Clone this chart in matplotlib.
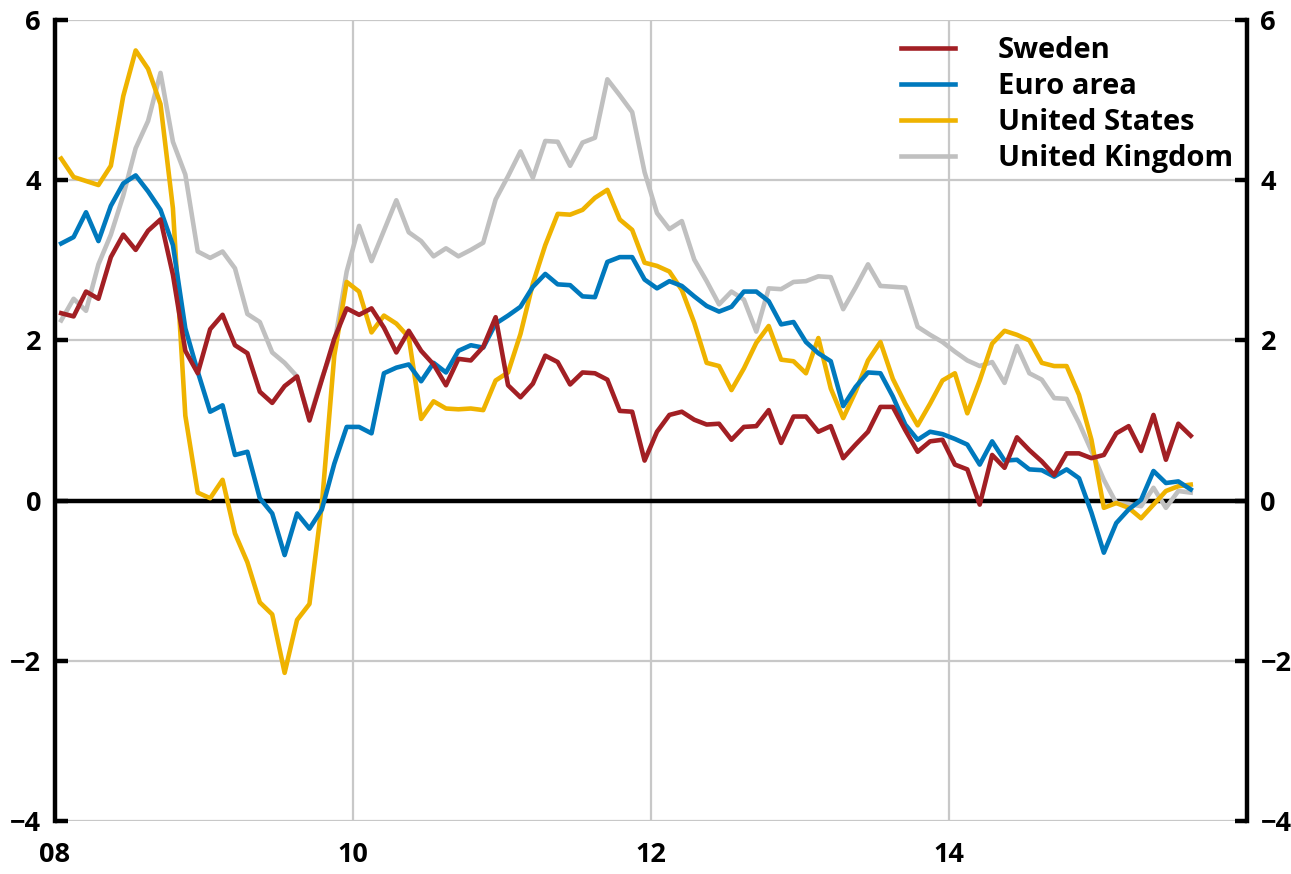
import numpy as np
import matplotlib.pyplot as plt

# monthly inflation, Jan 2008 - Aug 2015
sweden = [2.34, 2.30, 2.61, 2.52, 3.04, 3.32, 3.13, 3.37, 3.51, 2.82, 1.87, 1.59,
          2.14, 2.32, 1.94, 1.84, 1.36, 1.22, 1.43, 1.55, 1.00, 1.51, 2.02, 2.40,
          2.32, 2.40, 2.16, 1.85, 2.12, 1.87, 1.70, 1.44, 1.77, 1.75, 1.92, 2.29,
          1.44, 1.29, 1.46, 1.81, 1.73, 1.45, 1.60, 1.59, 1.51, 1.12, 1.11, 0.50,
          0.86, 1.07, 1.11, 1.01, 0.95, 0.96, 0.76, 0.92, 0.93, 1.13, 0.72, 1.05,
          1.05, 0.86, 0.93, 0.53, 0.70, 0.86, 1.17, 1.17, 0.88, 0.61, 0.74, 0.76,
          0.45, 0.39, -0.05, 0.57, 0.41, 0.79, 0.63, 0.49, 0.32, 0.59, 0.59, 0.53,
          0.57, 0.84, 0.93, 0.62, 1.07, 0.51, 0.96, 0.81]
euro = [3.21, 3.29, 3.60, 3.24, 3.68, 3.96, 4.06, 3.86, 3.63, 3.19, 2.15, 1.61,
        1.11, 1.19, 0.57, 0.61, 0.03, -0.16, -0.68, -0.16, -0.35, -0.11, 0.46, 0.92,
        0.92, 0.84, 1.59, 1.66, 1.70, 1.49, 1.72, 1.60, 1.87, 1.94, 1.91, 2.21,
        2.31, 2.42, 2.67, 2.83, 2.70, 2.69, 2.55, 2.54, 2.98, 3.04, 3.04, 2.76,
        2.65, 2.74, 2.68, 2.55, 2.43, 2.36, 2.42, 2.61, 2.61, 2.49, 2.20, 2.23,
        1.98, 1.84, 1.74, 1.18, 1.42, 1.60, 1.59, 1.30, 0.95, 0.76, 0.86, 0.83,
        0.77, 0.70, 0.45, 0.74, 0.50, 0.51, 0.39, 0.38, 0.30, 0.39, 0.28, -0.15,
        -0.65, -0.28, -0.11, 0.01, 0.37, 0.22, 0.24, 0.14]
usa = [4.27, 4.04, 3.99, 3.94, 4.18, 5.05, 5.62, 5.39, 4.95, 3.65, 1.06, 0.10,
       0.03, 0.26, -0.41, -0.77, -1.27, -1.42, -2.15, -1.49, -1.29, -0.05, 1.81, 2.73,
       2.61, 2.10, 2.31, 2.21, 2.04, 1.02, 1.24, 1.15, 1.14, 1.15, 1.13, 1.50,
       1.60, 2.08, 2.71, 3.19, 3.58, 3.57, 3.63, 3.78, 3.88, 3.51, 3.38, 2.97,
       2.93, 2.86, 2.63, 2.22, 1.72, 1.68, 1.38, 1.65, 1.97, 2.18, 1.76, 1.74,
       1.59, 2.03, 1.40, 1.03, 1.36, 1.75, 1.98, 1.52, 1.21, 0.94, 1.21, 1.50,
       1.59, 1.09, 1.50, 1.96, 2.12, 2.07, 2.00, 1.72, 1.68, 1.68, 1.32, 0.76,
       -0.09, -0.03, -0.09, -0.22, -0.05, 0.12, 0.18, 0.20]
uk = [2.25, 2.52, 2.37, 2.95, 3.32, 3.81, 4.40, 4.74, 5.34, 4.48, 4.07, 3.11,
      3.03, 3.11, 2.90, 2.33, 2.23, 1.85, 1.72, 1.55, 1.02, 1.53, 1.95, 2.86,
      3.43, 2.99, 3.37, 3.75, 3.35, 3.24, 3.05, 3.15, 3.05, 3.13, 3.22, 3.76,
      4.05, 4.36, 4.03, 4.49, 4.48, 4.18, 4.47, 4.53, 5.26, 5.06, 4.85, 4.10,
      3.59, 3.39, 3.49, 3.01, 2.74, 2.45, 2.61, 2.51, 2.11, 2.65, 2.64, 2.73,
      2.74, 2.80, 2.79, 2.39, 2.66, 2.95, 2.68, 2.67, 2.66, 2.17, 2.07, 1.98,
      1.86, 1.75, 1.68, 1.73, 1.47, 1.93, 1.59, 1.51, 1.28, 1.27, 0.97, 0.62,
      0.26, -0.03, -0.04, -0.07, 0.16, -0.09, 0.12, 0.10]

year_ticks = [2008, 2010, 2012, 2014]
year_labels = ["08", "10", "12", "14"]
y_ticks = [-4, -2, 0, 2, 4, 6]

months = np.arange(len(sweden))
x = 2008 + (months + 0.5) / 12

plt.rcParams['font.family'] = ['Open Sans', 'DejaVu Sans']
plt.rcParams['font.weight'] = 'bold'

fig = plt.figure(figsize=(12.91, 8.74), dpi=100)
ax = fig.add_axes([0.0426, 0.0606, 0.923, 0.9165])

lw = 3.3
l_uk, = ax.plot(x, uk, color='#C0C0C0', lw=lw, label='United Kingdom', zorder=3)
l_us, = ax.plot(x, usa, color='#EFB300', lw=lw, label='United States', zorder=4)
l_eu, = ax.plot(x, euro, color='#0079BD', lw=lw, label='Euro area', zorder=5)
l_se, = ax.plot(x, sweden, color='#A21F24', lw=lw, label='Sweden', zorder=6)

ax.axhline(0, color='black', lw=3.2, zorder=2)

ax.set_xlim(2008, 2016)
ax.set_ylim(-4, 6)
ax.set_xticks(year_ticks)
ax.set_xticklabels(year_labels)
ax.set_yticks(y_ticks)

ax.grid(True, color='#C8C8C8', lw=1.6, zorder=0)
ax.set_axisbelow(True)

for side in ['top', 'bottom']:
    ax.spines[side].set_visible(False)
for side in ['left', 'right']:
    ax.spines[side].set_linewidth(3.2)
    ax.spines[side].set_color('black')

ax.tick_params(axis='y', direction='in', length=9, width=3.2, left=True, right=True,
               labelleft=True, labelright=True, labelsize=19.5, pad=10)
ax.tick_params(axis='x', length=0, labelsize=19.5, pad=15)
for lab in ax.get_xticklabels() + ax.get_yticklabels():
    lab.set_fontweight('bold')

leg = ax.legend(handles=[l_se, l_eu, l_us, l_uk], loc='upper right',
                bbox_to_anchor=(1.003, 1.002), frameon=False,
                handlelength=1.85, handletextpad=1.45, labelspacing=0.24,
                borderaxespad=0.2, prop={'weight': 'bold', 'size': 21})
for line in leg.get_lines():
    line.set_linewidth(3.3)

fig.savefig('out.png', dpi=100)
